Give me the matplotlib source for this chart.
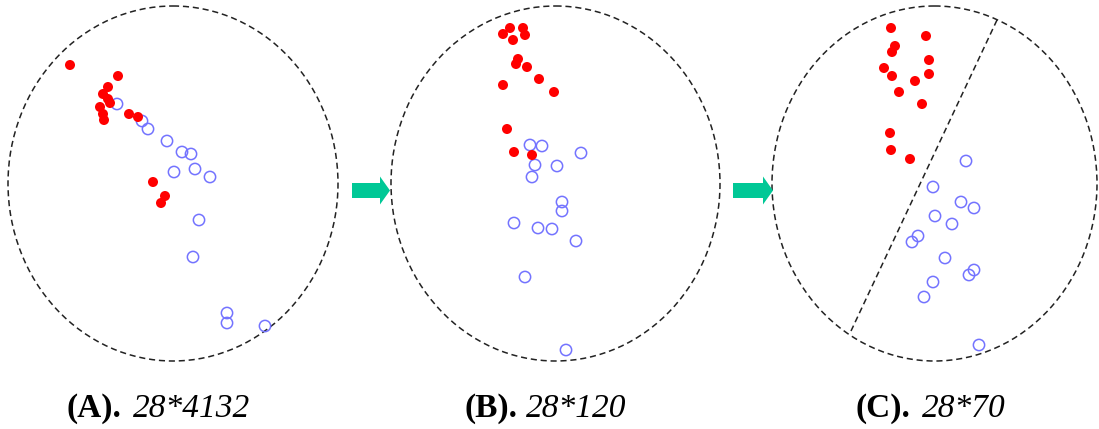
import matplotlib
matplotlib.use("Agg")
import matplotlib.pyplot as plt
from matplotlib.patches import Ellipse, FancyArrow

# panel circles: centre x, centre y, width, height (pixel-like units)
circ_x = [173, 555.5, 934.5]
circ_y = [183.5, 183.5, 183.5]
circ_w = [330, 329, 325]
circ_h = [355, 355, 355]

# (A) 28*4132
red_a_x = [70, 118, 108, 103, 108, 110, 100, 103, 104, 129, 138, 153, 165, 161]
red_a_y = [65, 76, 87, 94, 99, 103, 107, 114, 120, 114, 117, 182, 196, 203]
blue_a_x = [117, 142, 148, 167, 182, 191, 195, 174, 210, 199, 193, 227, 227, 265]
blue_a_y = [104, 121, 129, 141, 152, 154, 169, 172, 177, 220, 257, 313, 323, 326]

# (B) 28*120
red_b_x = [510, 523, 503, 525, 513, 518, 516, 527, 539, 503, 554, 507, 514, 532]
red_b_y = [28, 28, 34, 35, 40, 59, 64, 67, 79, 85, 92, 129, 152, 155]
blue_b_x = [530, 542, 581, 535, 557, 532, 562, 562, 514, 538, 552, 576, 525, 566]
blue_b_y = [145, 146, 153, 165, 166, 177, 202, 211, 223, 228, 229, 241, 277, 350]

# (C) 28*70
red_c_x = [891, 926, 895, 892, 929, 884, 892, 929, 915, 899, 922, 890, 891, 910]
red_c_y = [28, 36, 46, 52, 60, 68, 76, 74, 81, 92, 104, 133, 150, 159]
blue_c_x = [966, 933, 961, 974, 935, 952, 918, 912, 945, 974, 969, 933, 924, 979]
blue_c_y = [161, 187, 202, 208, 216, 224, 236, 242, 258, 270, 275, 282, 297, 345]

# separating line in (C)
sep_x = [997, 851]
sep_y = [20, 331]

# arrows between panels: start x, end x
arrow_x0 = [352, 733]
arrow_x1 = [390, 773]
arrow_y = 190.5

labels_bold = ["(A).", "(B).", "(C)."]
labels_ital = ["28*4132", "28*120", "28*70"]
label_split = [(121, 133), (518, 526), (910, 922)]

red = "#ff0000"
blue = "#7373ff"
green = "#00c896"

fig = plt.figure(figsize=(10.99, 4.29), dpi=100)
ax = fig.add_axes([0, 0, 1, 1])
ax.set_xlim(0, 1099)
ax.set_ylim(429, 0)
ax.axis("off")

for cx, cy, w, h in zip(circ_x, circ_y, circ_w, circ_h):
    ax.add_patch(Ellipse((cx, cy), w, h, fill=False, edgecolor="#222222",
                         linestyle=(0, (4, 2.5)), linewidth=1.1))

ax.plot(sep_x, sep_y, color="#222222", linestyle=(0, (4, 2.5)), linewidth=1.1)

for rx, ry, bx, by in [(red_a_x, red_a_y, blue_a_x, blue_a_y),
                       (red_b_x, red_b_y, blue_b_x, blue_b_y),
                       (red_c_x, red_c_y, blue_c_x, blue_c_y)]:
    ax.scatter(bx, by, s=66, facecolors="none", edgecolors=blue, linewidths=1.1, zorder=3)
    ax.scatter(rx, ry, s=52, color=red, edgecolors="none", zorder=4)

for x0, x1 in zip(arrow_x0, arrow_x1):
    ax.add_patch(FancyArrow(x0, arrow_y, x1 - x0, 0, width=15, head_width=28,
                            head_length=10, length_includes_head=True,
                            color=green, linewidth=0))

for b, it, (xs, xi) in zip(labels_bold, labels_ital, label_split):
    ax.text(xs, 417, b, ha="right", va="baseline", fontsize=24,
            family="Liberation Serif", fontweight="bold")
    ax.text(xi, 417, it, ha="left", va="baseline", fontsize=24,
            family="Liberation Serif", style="italic")

fig.savefig("out.png", dpi=100)
